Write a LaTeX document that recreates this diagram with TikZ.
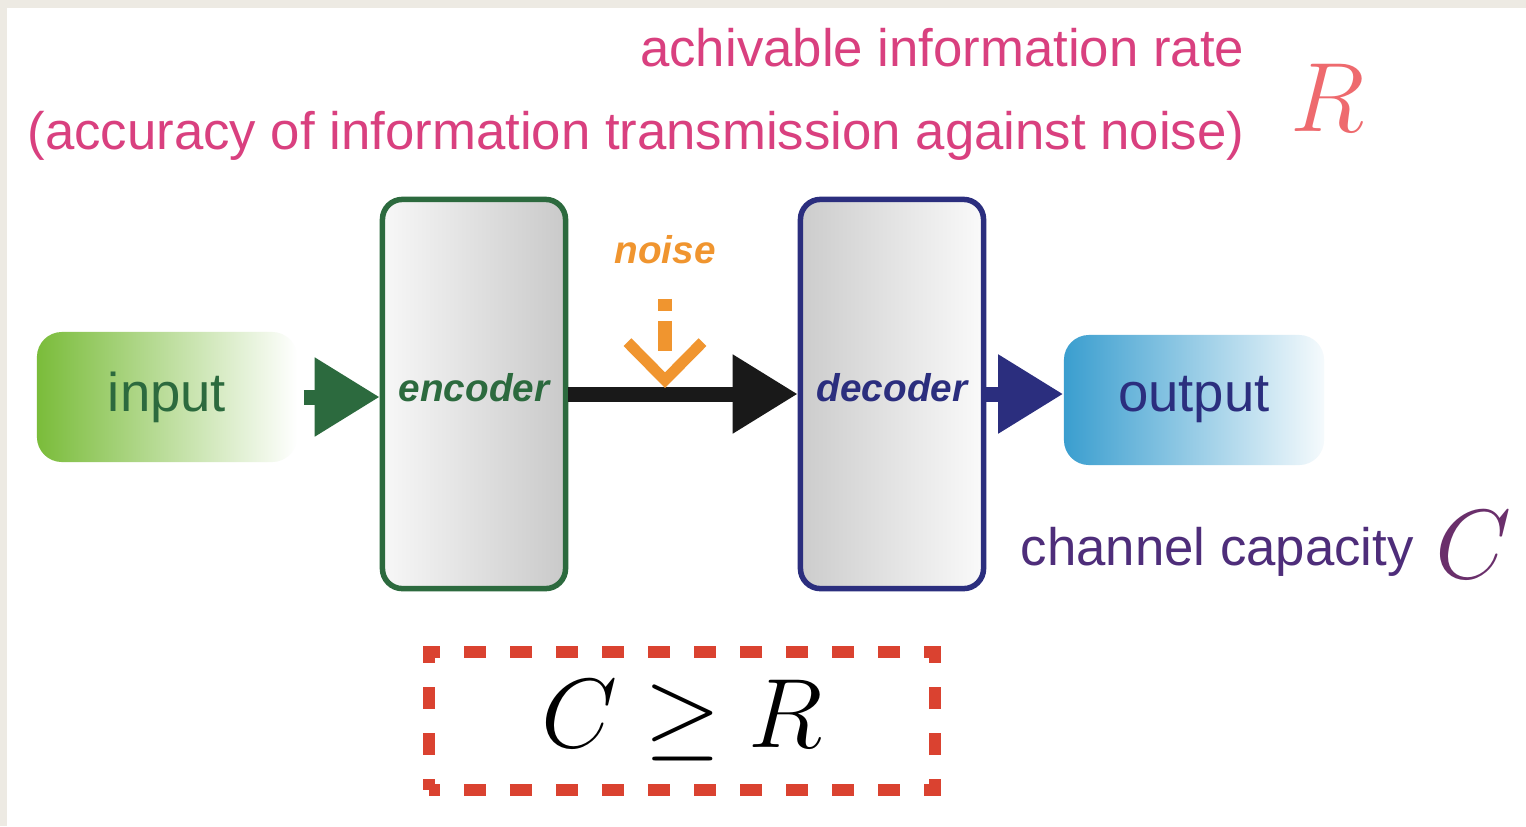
\RequirePackage{fix-cm}
\documentclass[tikz,border=0pt]{standalone}
\usepackage{amsmath}
\usepackage{amssymb}
\usepackage{fontspec}
\setmainfont{Liberation Sans}
\usepackage{tikz}
\usetikzlibrary{positioning, calc, arrows.meta, shapes}
\definecolor{ratepink}{HTML}{D9407F}
\definecolor{ratesalmon}{HTML}{EE6A6E}
\definecolor{encgreen}{HTML}{2C6A3E}
\definecolor{ingreen}{HTML}{7ABC3A}
\definecolor{noiseorange}{HTML}{F0952F}
\definecolor{decnavy}{HTML}{2B2E7E}
\definecolor{outblue}{HTML}{3A9ECF}
\definecolor{cappurple}{HTML}{4E2D7A}
\definecolor{capplum}{HTML}{6A2F6B}
\definecolor{boundred}{HTML}{DA4230}
\definecolor{paper}{HTML}{EDEAE3}
\tikzstyle{Flow} = [
%Create block arrow style:
line width = 0.15cm,
-{Triangle[length = 0.65cm, width = 0.75cm]}
]

\begin{document}
\begin{tikzpicture}[
		x = 0.01cm, y = -0.01cm,
		endpoint/.style = {rectangle, rounded corners = 0.25cm, text centered, minimum width = 2.6cm, minimum height = 1.3cm, font = \fontsize{15.5}{18}\selectfont},
		coder/.style = {rectangle, rounded corners = 0.2cm, line width = 0.055cm, draw, text centered, minimum width = 1.83cm, minimum height = 3.89cm, text depth = 0.14cm, font = \fontsize{11}{13}\selectfont\bfseries\itshape},
		remark/.style = {inner sep = 0, font = \fontsize{15}{18}\selectfont},
		bigmath/.style = {inner sep = 0, font = \fontsize{28}{32}\selectfont},
	]
	\fill[paper](0,0) rectangle (1526,826);
	\fill[white](7,8) rectangle (1526,826);

	\node[remark, ratepink, anchor = base east](rate) at (1245,66){achivable information rate};
	\node[remark, ratepink, anchor = base east](accuracy) at (1245,149){(accuracy of information transmission against noise)};
	\node[bigmath, ratesalmon](R) at (1328,98){$R$};

	\node[endpoint, left color = ingreen, right color = white, text = encgreen](input) at (167,397){input};
	\node[coder, encgreen, left color = white!97!black, right color = white!79!black](encoder) at (474,394){encoder};
	\node[coder, decnavy, left color = white!80!black, right color = white!98!black](decoder) at (892,394){decoder};
	\node[endpoint, left color = outblue, right color = white!95!outblue, text = decnavy](output) at (1194,400){output};
	\node[inner sep = 0, noiseorange, font = \fontsize{11}{13}\selectfont\bfseries\itshape](noise) at (665,250){noise};

	\draw[Flow, encgreen, shorten < = 0.06cm](input.east)--(input.east -| encoder.west);
	\draw[Flow, black!90](encoder)--(decoder);
	\draw[Flow, decnavy](decoder.east)--(decoder.east -| output.west);
	\draw[noiseorange, line width = 0.13cm, dash pattern = on 0.12cm off 0.1cm on 0.3cm off 1cm, shorten < = 0.34cm, shorten > = 0.06cm, -{Straight Barb[length = 0.38cm, width = 0.75cm, line width = 0.11cm]}](noise.south)--(noise.south |- encoder.center);

	\node[remark, cappurple, anchor = base west](capacity) at (1020,565){channel capacity};
	\node[bigmath, capplum](C) at (1474,545){$C$};
	\node[bigmath, draw = boundred, line width = 0.12cm, dash pattern = on 0.22cm off 0.24cm, dash phase = 0.11cm, minimum width = 5.06cm, minimum height = 1.38cm](bound) at (682,721){$C \geq R$};
\end{tikzpicture}
\end{document}
